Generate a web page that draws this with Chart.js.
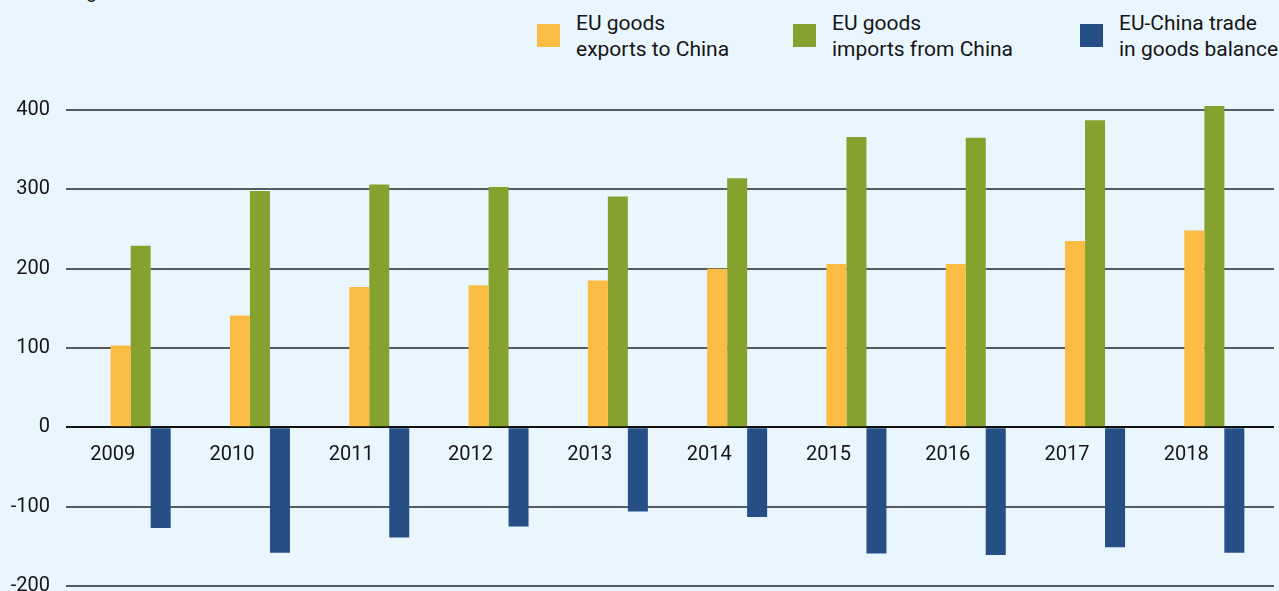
<!DOCTYPE html>
<html>
<head>
<meta charset="utf-8">
<script src="https://cdn.jsdelivr.net/npm/chart.js@4"></script>
<style>
  html, body { margin: 0; padding: 0; background: #eaf6fe; }
  body { width: 1279px; height: 591px; overflow: hidden; position: relative; font-family: Roboto, sans-serif; color: #151515; }
  #chart { position: absolute; left: 0; top: 0; }
  .title { position: absolute; left: 14px; top: -20px; font-size: 19px; white-space: nowrap; }
  .legend-item { position: absolute; top: 10px; font-size: 21px; line-height: 26px; }
  .legend-item .sw { position: absolute; left: 0; top: 14px; width: 23px; height: 23px; }
  .legend-item .txt { position: absolute; left: 39px; top: 0; white-space: nowrap; }
</style>
</head>
<body>
<div class="title">Trade in goods in EUR billion</div>
<div class="legend-item" style="left:537px"><span class="sw" style="background:#fbbc43"></span><span class="txt">EU goods<br>exports to China</span></div>
<div class="legend-item" style="left:793px"><span class="sw" style="background:#84a22d"></span><span class="txt">EU goods<br>imports from China</span></div>
<div class="legend-item" style="left:1080px"><span class="sw" style="background:#264f86"></span><span class="txt">EU-China trade<br>in goods balance</span></div>
<!-- etwas höher als das Fenster, damit die Achse unten bei -200 bleibt -->
<canvas id="chart" width="1279" height="614"></canvas>
<script>
// Werte in Mrd. EUR
const years = ['2009', '2010', '2011', '2012', '2013', '2014', '2015', '2016', '2017', '2018'];
const exportsToChina = [103, 141, 177, 179, 185, 200, 206, 206, 235, 248];
const importsFromChina = [229, 298, 306, 303, 291, 314, 366, 365, 387, 405];
const tradeBalance = [-127, -158, -139, -125, -106, -113, -159, -161, -151, -158];

Chart.defaults.font.family = 'Roboto, sans-serif';
Chart.defaults.font.size = 20;
Chart.defaults.color = '#151515';

const lineColor = (ctx) => ctx.tick && ctx.tick.value === 0 ? '#111111' : '#555b60';

new Chart(document.getElementById('chart'), {
    type: 'bar',
    data: {
        labels: years,
        datasets: [
            { label: 'EU goods exports to China', data: exportsToChina, backgroundColor: '#fbbc43', clip: false },
            { label: 'EU goods imports from China', data: importsFromChina, backgroundColor: '#84a22d', clip: false },
            { label: 'EU-China trade in goods balance', data: tradeBalance, backgroundColor: '#264f86', clip: false }
        ]
    },
    options: {
        responsive: false,
        animation: false,
        layout: { padding: { top: 110, bottom: 5, left: 0, right: 5 } },
        datasets: {
            bar: { barPercentage: 1, categoryPercentage: 0.503 }
        },
        plugins: {
            legend: { display: false },
            tooltip: { enabled: false }
        },
        scales: {
            x: {
                position: { y: 0 },
                afterFit: (scale) => { scale.height = 0; },
                grid: { display: false },
                border: { display: false },
                ticks: { padding: 8, labelOffset: -28, maxRotation: 0 }
            },
            y: {
                min: -200,
                max: 400,
                afterFit: (scale) => { scale.width = 81; },
                border: { display: false },
                grid: {
                    color: lineColor,
                    tickColor: lineColor,
                    lineWidth: 2,
                    drawTicks: true,
                    tickLength: 15
                },
                ticks: { stepSize: 100, padding: 16 }
            }
        }
    }
});
</script>
</body>
</html>
